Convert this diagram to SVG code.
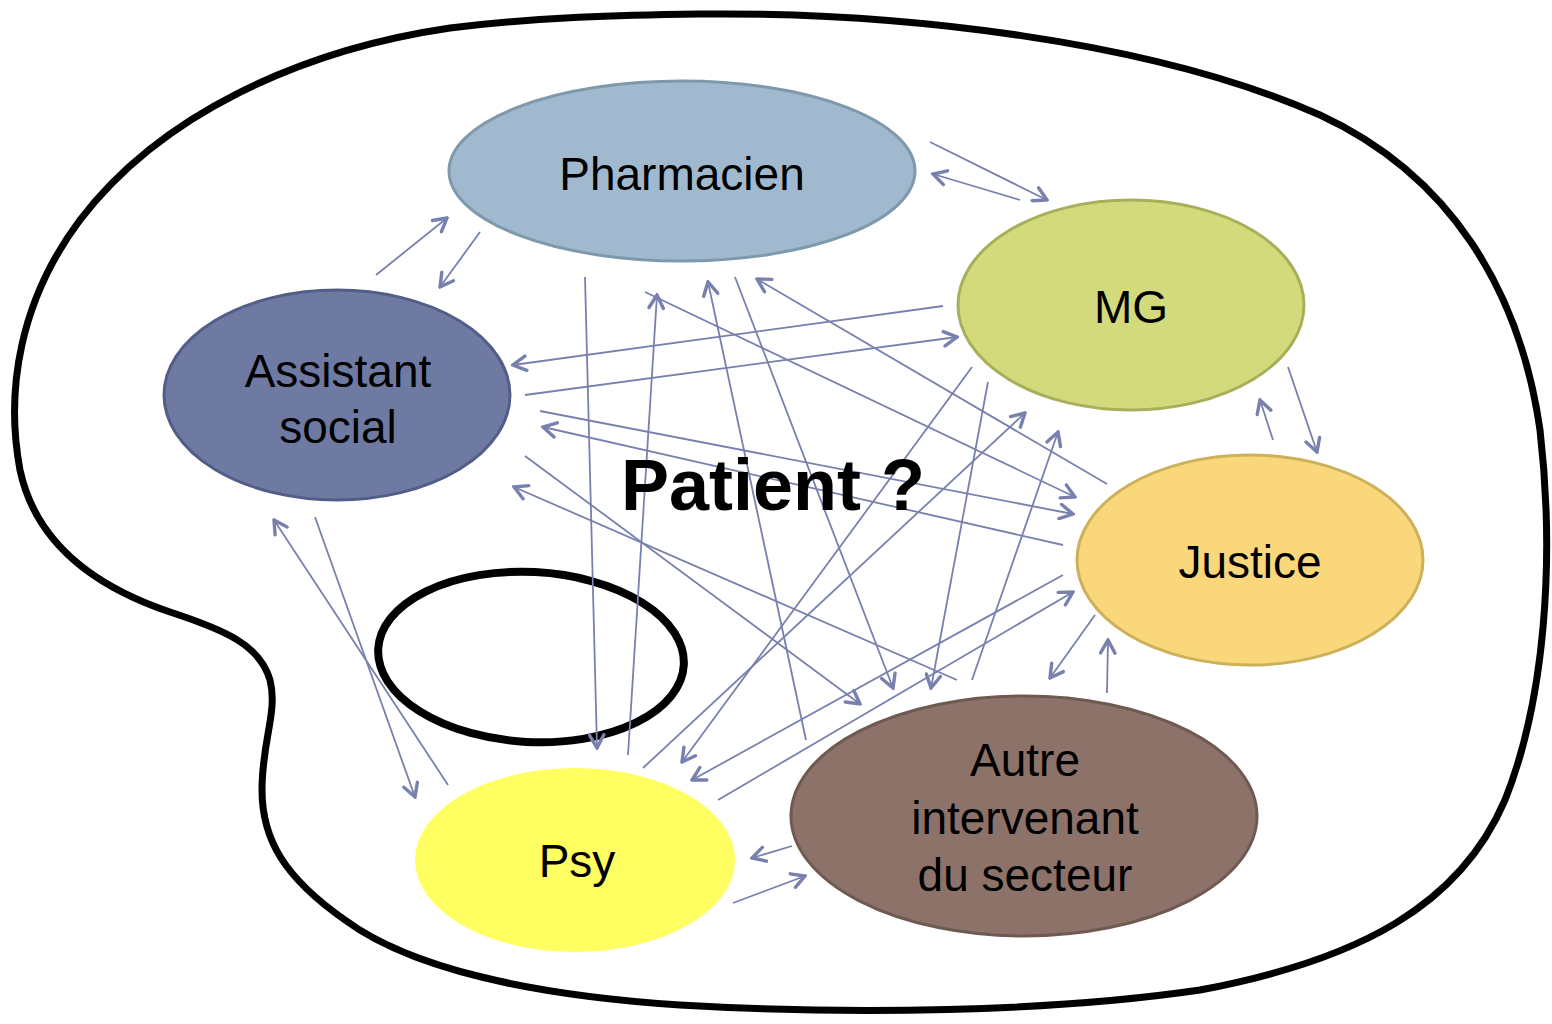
<svg xmlns="http://www.w3.org/2000/svg" width="1552" height="1024" viewBox="0 0 1552 1024">
<style>
.lbl{font-family:"Liberation Sans",Arial,sans-serif;font-size:46px;fill:#000;text-anchor:middle}
.title{font-family:"Liberation Sans",Arial,sans-serif;font-size:72px;font-weight:bold;fill:#000;text-anchor:middle}
.c{stroke:#7880AE;stroke-width:1.8;fill:none;marker-end:url(#ah)}
.outline{fill:none;stroke:#000;stroke-linejoin:round}
</style>
<defs>
<marker id="ah" viewBox="0 0 18 18" refX="16" refY="9" markerWidth="18" markerHeight="18" markerUnits="userSpaceOnUse" orient="auto">
<path d="M3,1.8 L16,9 L3,16.2" fill="none" stroke="#7880AE" stroke-width="3.4" stroke-linecap="round" stroke-linejoin="miter"/>
</marker>
</defs>
<rect width="1552" height="1024" fill="#fff"/>
<g id="palette">
<path class="outline" stroke-width="7" d="M700,14 C900,12 1150,40 1320,115 C1450,175 1520,290 1540,430 C1555,560 1545,700 1505,800 C1460,905 1360,960 1200,990 C1050,1012 850,1015 680,1005 C530,995 410,968 345,920 C285,878 262,840 262,790 C262,740 278,712 270,680 C260,645 225,630 170,612 C90,585 35,540 20,470 C5,390 20,300 80,220 C160,115 300,50 450,28 C540,17 620,15 700,14 Z"/>
<ellipse class="outline" stroke-width="8" cx="531" cy="657" rx="153" ry="85" transform="rotate(3 531 657)"/>
</g>
<g id="pharmacien">
<ellipse cx="682" cy="171" rx="233" ry="90" fill="#A0B9CF" stroke="#7E98AC" stroke-width="3"/>
<text class="lbl" x="682" y="190">Pharmacien</text>
</g>
<g id="mg">
<ellipse cx="1131" cy="305" rx="173" ry="105" fill="#D3DA7C" stroke="#A8AF5A" stroke-width="3"/>
<text class="lbl" x="1131" y="323">MG</text>
</g>
<g id="assistant">
<ellipse cx="337" cy="395" rx="173" ry="105" fill="#6F7AA3" stroke="#525D88" stroke-width="3"/>
<text class="lbl" x="338" y="387">Assistant</text>
<text class="lbl" x="338" y="443">social</text>
</g>
<g id="justice">
<ellipse cx="1250" cy="560" rx="173" ry="105" fill="#FAD77A" stroke="#CDB15A" stroke-width="3"/>
<text class="lbl" x="1250" y="578">Justice</text>
</g>
<g id="psy">
<ellipse cx="575" cy="860" rx="160" ry="92" fill="#FFFF62"/>
<text class="lbl" x="577" y="877">Psy</text>
</g>
<g id="autre">
<ellipse cx="1024" cy="816" rx="233" ry="120" fill="#8C7268" stroke="#6F5A52" stroke-width="3"/>
<text class="lbl" x="1025" y="776">Autre</text>
<text class="lbl" x="1025" y="834">intervenant</text>
<text class="lbl" x="1025" y="891">du secteur</text>
</g>
<g id="connectors">
<line class="c" x1="930" y1="142" x2="1047" y2="200"/>
<line class="c" x1="1020" y1="200" x2="933" y2="174"/>
<line class="c" x1="376" y1="275" x2="447" y2="218"/>
<line class="c" x1="480" y1="232" x2="440" y2="287"/>
<line class="c" x1="1288" y1="367" x2="1317" y2="452"/>
<line class="c" x1="1273" y1="440" x2="1260" y2="400"/>
<line class="c" x1="1095" y1="615" x2="1050" y2="678"/>
<line class="c" x1="1107" y1="693" x2="1108" y2="640"/>
<line class="c" x1="792" y1="846" x2="752" y2="858"/>
<line class="c" x1="733" y1="903" x2="805" y2="876"/>
<line class="c" x1="315" y1="517" x2="415" y2="797"/>
<line class="c" x1="448" y1="785" x2="274" y2="520"/>
<line class="c" x1="943" y1="306" x2="513" y2="365"/>
<line class="c" x1="525" y1="395" x2="957" y2="337"/>
<line class="c" x1="540" y1="411" x2="1073" y2="514"/>
<line class="c" x1="585" y1="277" x2="597" y2="748"/>
<line class="c" x1="628" y1="755" x2="657" y2="295"/>
<line class="c" x1="645" y1="292" x2="1075" y2="497"/>
<line class="c" x1="806" y1="740" x2="708" y2="282"/>
<line class="c" x1="735" y1="277" x2="893" y2="688"/>
<line class="c" x1="1107" y1="484" x2="757" y2="279"/>
<line class="c" x1="1063" y1="545" x2="543" y2="427"/>
<line class="c" x1="525" y1="456" x2="860" y2="704"/>
<line class="c" x1="957" y1="680" x2="514" y2="487"/>
<line class="c" x1="972" y1="367" x2="682" y2="762"/>
<line class="c" x1="988" y1="382" x2="931" y2="688"/>
<line class="c" x1="643" y1="768" x2="1025" y2="413"/>
<line class="c" x1="972" y1="680" x2="1058" y2="432"/>
<line class="c" x1="1063" y1="575" x2="692" y2="780"/>
<line class="c" x1="718" y1="800" x2="1073" y2="592"/>
</g>
<text class="title" x="773" y="510">Patient ?</text>
</svg>
